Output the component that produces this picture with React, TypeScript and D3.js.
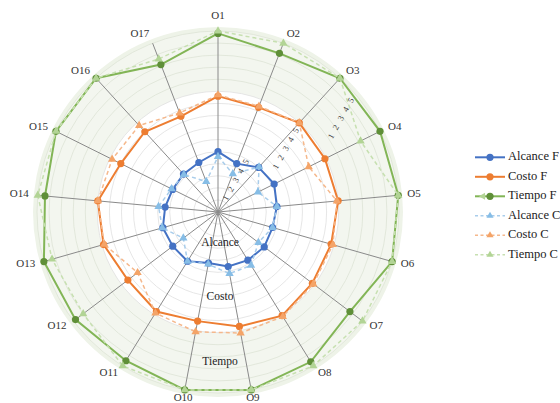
import * as d3 from "d3";

const width = 560;
const height = 403;
const cx = 218;
const cy = 212;
const outerRadius = 181;

// data (value scale 0-15: Alcance 0-5, Costo 5-10, Tiempo 10-15)
const categories = [
  "O1", "O2", "O3", "O4", "O5", "O6", "O7", "O8", "O9",
  "O10", "O11", "O12", "O13", "O14", "O15", "O16", "O17",
];
const alcanceF = [5.0, 4.3, 5.0, 5.2, 4.9, 4.7, 4.8, 4.7, 4.6, 4.3, 4.8, 4.7, 4.75, 4.4, 4.2, 4.25, 4.4];
const costoF = [9.6, 9.3, 10.0, 9.9, 10.0, 9.75, 9.8, 10.1, 9.65, 9.2, 9.7, 9.36, 9.86, 10.0, 9.0, 9.0, 8.5];
const tiempoF = [14.8, 14.1, 15, 15, 15, 15, 13.7, 14.6, 15, 15, 14.5, 14.8, 15, 14.4, 15, 15, 13.1];
const alcanceC = [4.6, 3.4, 5.05, 3.7, 4.9, 4.7, 4.2, 5.2, 5.2, 4.4, 4.8, 3.6, 4.8, 4.95, 4.3, 4.2, 2.7];
const costoC = [9.7, 9.4, 10.0, 8.4, 9.9, 9.9, 9.9, 10.2, 10.2, 10.1, 9.85, 8.35, 9.8, 10.0, 9.8, 9.7, 8.8];
const tiempoC = [15, 15, 15, 13.2, 15, 15, 15, 15, 15, 15, 15, 14.0, 14.3, 15, 15, 15, 13.6];

const seriesNames = ["Alcance F", "Costo F", "Tiempo F", "Alcance C", "Costo C", "Tiempo C"];
const tickLabels = ["1", "2", "3", "4", "5"];
const bandLabels = ["Alcance", "Costo", "Tiempo"];
const maxValue = 15;
const ringValues = d3.range(1, maxValue + 1);

type Series = {
  name: string;
  values: number[];
  line: string;
  marker: string;
  dashed: boolean;
  shape: "circle" | "triangle";
};

const series: Series[] = [
  { name: seriesNames[0], values: alcanceF, line: "#4472c4", marker: "#4472c4", dashed: false, shape: "circle" },
  { name: seriesNames[1], values: costoF, line: "#ed7d31", marker: "#ed7d31", dashed: false, shape: "circle" },
  { name: seriesNames[2], values: tiempoF, line: "#82b556", marker: "#5f8f38", dashed: false, shape: "circle" },
  { name: seriesNames[3], values: alcanceC, line: "#a9cdeb", marker: "#86bde6", dashed: true, shape: "triangle" },
  { name: seriesNames[4], values: costoC, line: "#f5b88c", marker: "#f4a468", dashed: true, shape: "triangle" },
  { name: seriesNames[5], values: tiempoC, line: "#c7e0b1", marker: "#b2d495", dashed: true, shape: "triangle" },
];

// layout of the hand placed labels
const bandLabelAt = [2.57, 7.04, 12.5];
const tickColumns = [
  { r: 1.34, angle: 32.4 },
  { r: 6.13, angle: 52.5 },
  { r: 11.3, angle: 56.5 },
];
const tickStep = 10.3;
const tickTilt = 29;

const serif = "'Liberation Serif', 'Times New Roman', serif";

const r = d3.scaleLinear().domain([0, maxValue]).range([0, outerRadius]);
const angle = d3
  .scalePoint<string>()
  .domain(categories)
  .range([0, 2 * Math.PI * (1 - 1 / categories.length)]);

const px = (a: number, v: number) => r(v) * Math.sin(a);
const py = (a: number, v: number) => -r(v) * Math.cos(a);

const triangle = d3.symbol(d3.symbolTriangle, 30)() as string;
const legendTriangle = d3.symbol(d3.symbolTriangle, 22)() as string;

const App = () => {
  const lineBuilder = d3
    .lineRadial<number>()
    .angle((_, i) => angle(categories[i]) as number)
    .radius((d) => r(d))
    .curve(d3.curveLinearClosed);

  const tx = Math.sin((tickTilt * Math.PI) / 180);
  const ty = -Math.cos((tickTilt * Math.PI) / 180);

  return (
    <div style={{ position: "absolute", left: 0, top: 0 }}>
      <svg width={width} height={height} viewBox={`0 0 ${width} ${height}`} style={{ display: "block", background: "#fff" }}>
        <g transform={`translate(${cx},${cy})`}>
          <circle r={r(maxValue) + 4} fill="#eef3e8" />
          <circle r={r(maxValue)} fill="#f3f6ef" />
          <circle r={r(10)} fill="#ffffff" />
          {ringValues.map((v) => (
            <circle key={v} r={r(v)} fill="none" stroke={v > 10 ? "#dde3d6" : "#e0e0e0"} strokeWidth={0.8} />
          ))}
          {categories.map((c) => {
            const a = angle(c) as number;
            return (
              <line key={c} x1={0} y1={0} x2={px(a, maxValue)} y2={py(a, maxValue)} stroke="#8a8a8a" strokeWidth={1} />
            );
          })}

          {series.map((s) => (
            <g key={s.name}>
              <path
                d={lineBuilder(s.values) as string}
                fill="none"
                stroke={s.line}
                strokeWidth={s.dashed ? 1.5 : 2}
                strokeDasharray={s.dashed ? "4,3" : undefined}
              />
              {s.values.map((v, i) => {
                const a = angle(categories[i]) as number;
                return s.shape === "circle" ? (
                  <circle key={i} cx={px(a, v)} cy={py(a, v)} r={3.6} fill={s.marker} />
                ) : (
                  <path key={i} d={triangle} transform={`translate(${px(a, v)},${py(a, v)})`} fill={s.marker} />
                );
              })}
            </g>
          ))}

          {categories.map((c) => {
            const a = angle(c) as number;
            const s = Math.sin(a);
            const co = Math.cos(a);
            const R = outerRadius + 9;
            const anchor = s > 0.2 ? "start" : s < -0.2 ? "end" : "middle";
            const shift = Math.abs(s) < 0.2 && co > 0 ? -6 : 0;
            return (
              <text
                key={c}
                x={R * s}
                y={-R * co + shift}
                textAnchor={anchor}
                dominantBaseline="middle"
                fontFamily={serif}
                fontSize={11}
                fill="#333"
              >
                {c}
              </text>
            );
          })}

          {bandLabels.map((b, i) => (
            <text
              key={b}
              x={2}
              y={r(bandLabelAt[i])}
              textAnchor="middle"
              dominantBaseline="middle"
              fontFamily={serif}
              fontSize={11.5}
              fill="#222"
            >
              {b}
            </text>
          ))}

          {tickColumns.map((col, b) =>
            tickLabels.map((t, k) => {
              const a = (col.angle * Math.PI) / 180;
              const x = px(a, col.r) + k * tickStep * tx;
              const y = py(a, col.r) + k * tickStep * ty;
              return (
                <text
                  key={`${b}-${t}`}
                  transform={`translate(${x},${y}) rotate(${-90 + tickTilt})`}
                  textAnchor="middle"
                  dominantBaseline="middle"
                  fontFamily={serif}
                  fontSize={8.5}
                  fill="#404040"
                >
                  {t}
                </text>
              );
            })
          )}
        </g>

        <g transform="translate(475,157.3)">
          {series.map((s, i) => (
            <g key={s.name} transform={`translate(0,${i * 19.5})`}>
              <line
                x1={0}
                x2={30}
                y1={0}
                y2={0}
                stroke={s.line}
                strokeWidth={s.dashed ? 1.5 : 2}
                strokeDasharray={s.dashed ? "3,2.5" : undefined}
              />
              {i === 2 && <path d={legendTriangle} transform="translate(8,0) rotate(-90)" fill="#b2d495" />}
              {s.shape === "circle" ? (
                <circle cx={15} cy={0} r={3.6} fill={s.marker} />
              ) : (
                <path d={legendTriangle} transform="translate(15,0)" fill={s.marker} />
              )}
              <text x={33} y={0} dominantBaseline="middle" fontFamily={serif} fontSize={12.5} fill="#222">
                {s.name}
              </text>
            </g>
          ))}
        </g>
      </svg>
    </div>
  );
};

export default App;
